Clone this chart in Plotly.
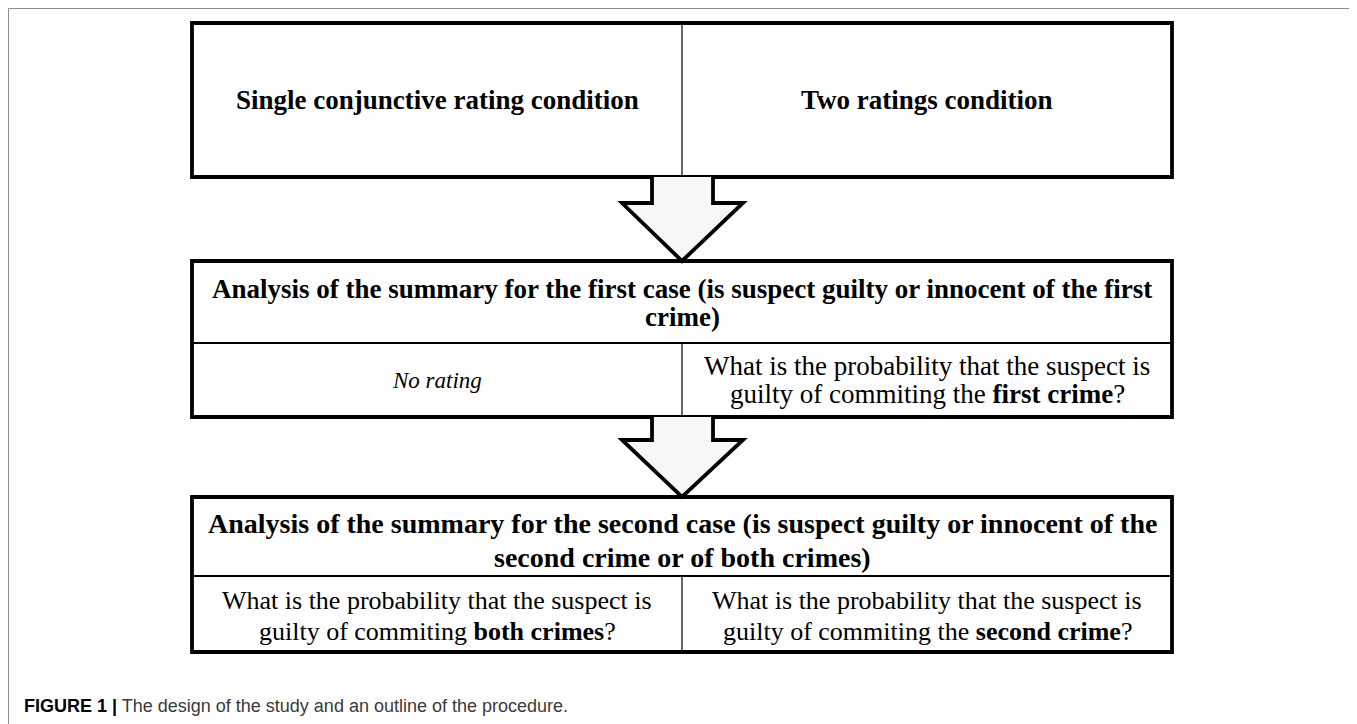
import plotly.graph_objects as go

# ---- content ----
top_labels = ["Single conjunctive rating condition", "Two ratings condition"]
mid_header = ["Analysis of the summary for the first case (is suspect guilty or innocent of the first",
              "crime)"]
mid_row_left = ["<i>No rating</i>"]
mid_row_right = ["What is the probability that the suspect is",
                 "guilty of commiting the <b>first crime</b>?"]
bot_header = ["Analysis of the summary for the second case (is suspect guilty or innocent of the",
              "second crime or of both crimes)"]
bot_row_left = ["What is the probability that the suspect is",
                "guilty of commiting <b>both crimes</b>?"]
bot_row_right = ["What is the probability that the suspect is",
                 "guilty of commiting the <b>second crime</b>?"]
caption_bold = "FIGURE 1 |"
caption_text = " The design of the study and an outline of the procedure."

# ---- layout geometry (page pixels) ----
W, H = 1357, 724
OFF = 8  # default body margin of the html page
XL, XM, XR = 192, 682, 1172
TOP = (23, 177)
MID = (261, 343, 417)
BOT = (497, 576, 652)

serif = "Liberation Serif, Times New Roman, serif"
shapes = []
ann = []

def rect(x0, y0, x1, y1, w=3.8):
    shapes.append(dict(type="rect", x0=x0, y0=y0, x1=x1, y1=y1, xref="x", yref="y",
                       line=dict(color="black", width=w), fillcolor="white", layer="above"))

def line(x0, y0, x1, y1, w=1.2, color="black"):
    shapes.append(dict(type="line", x0=x0, y0=y0, x1=x1, y1=y1, xref="x", yref="y",
                       line=dict(color=color, width=w), layer="above"))

def arrow(y_top, y_head, y_tip):
    cx = XM
    p = (f"M {cx-30} {y_top} L {cx-30} {y_head} L {cx-60} {y_head} L {cx} {y_tip} "
         f"L {cx+61} {y_head} L {cx+31} {y_head} L {cx+31} {y_top}")
    shapes.append(dict(type="path", path=p, xref="x", yref="y", fillcolor="#f7f7f7",
                       line=dict(color="black", width=3.8), layer="above"))

def text(t, x, y, size=26, color="black", xanchor="center"):
    ann.append(dict(text=t, x=x, y=y, xref="x", yref="y", showarrow=False,
                    xanchor=xanchor, yanchor="middle",
                    font=dict(family=serif, size=size, color=color)))

# outer frame
shapes.append(dict(type="rect", x0=8.5, y0=8.5, x1=1353, y1=760, xref="x", yref="y",
                   line=dict(color="#8f8f8f", width=1), layer="below"))

# top box
rect(XL, TOP[0], XR, TOP[1])
line(XM, TOP[0], XM, TOP[1])
text("<b>" + top_labels[0] + "</b>", (XL + XM) / 2, 100, size=27)
text("<b>" + top_labels[1] + "</b>", (XM + XR) / 2, 100, size=27)

# middle box
rect(XL, MID[0], XR, MID[2])
line(XL, MID[1], XR, MID[1], w=2)
line(XM, MID[1], XM, MID[2])
text("<b>" + mid_header[0] + "</b>", (XL + XR) / 2, 289, size=27)
text("<b>" + mid_header[1] + "</b>", (XL + XR) / 2, 317, size=27)
text(mid_row_left[0], (XL + XM) / 2, 380, size=23)
text(mid_row_right[0], (XM + XR) / 2, 366, size=27)
text(mid_row_right[1], (XM + XR) / 2, 394, size=27)

# bottom box
rect(XL, BOT[0], XR, BOT[2])
line(XL, BOT[1], XR, BOT[1], w=2)
line(XM, BOT[1], XM, BOT[2])
text("<b>" + bot_header[0] + "</b>", (XL + XR) / 2, 523, size=28)
text("<b>" + bot_header[1] + "</b>", (XL + XR) / 2, 557, size=28)
text(bot_row_left[0], (XL + XM) / 2, 600, size=26)
text(bot_row_left[1], (XL + XM) / 2, 631, size=26)
text(bot_row_right[0], (XM + XR) / 2, 600, size=26)
text(bot_row_right[1], (XM + XR) / 2, 631, size=26)

# arrows
arrow(TOP[1], 203, MID[0])
arrow(MID[2], 440, BOT[0])

# caption
ann.append(dict(text=f"<b>{caption_bold}</b><span style='color:#3a3a3a'>{caption_text}</span>",
                x=22, y=706, xref="x", yref="y", showarrow=False, xanchor="left", yanchor="middle",
                font=dict(family="Liberation Sans, Arial, sans-serif", size=18, color="black")))

fig = go.Figure()
fig.update_layout(
    width=W - OFF, height=H - OFF, margin=dict(l=0, r=0, t=0, b=0),
    paper_bgcolor="white", plot_bgcolor="white",
    xaxis=dict(range=[OFF, W], visible=False, fixedrange=True),
    yaxis=dict(range=[H, OFF], visible=False, fixedrange=True),
    shapes=shapes, annotations=ann, showlegend=False,
)
fig.write_html("out.html")
